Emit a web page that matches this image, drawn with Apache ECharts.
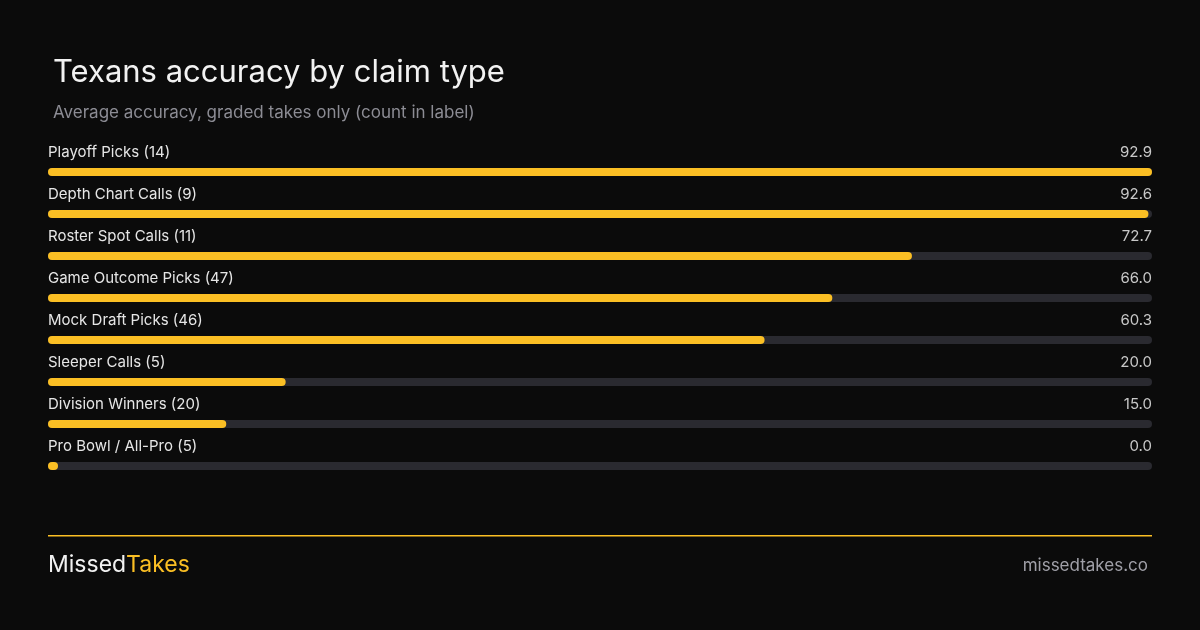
<!DOCTYPE html>
<html><head><meta charset="utf-8">
<script src="https://cdn.jsdelivr.net/npm/echarts@6/dist/echarts.min.js"></script>
<style>html,body{margin:0;padding:0;background:#0b0b0b}#c{width:1200px;height:630px}</style>
</head><body><div id="c"></div>
<script>
const categories = ["Playoff Picks (14)","Depth Chart Calls (9)","Roster Spot Calls (11)","Game Outcome Picks (47)","Mock Draft Picks (46)","Sleeper Calls (5)","Division Winners (20)","Pro Bowl / All-Pro (5)"];
const accuracy = [92.9,92.6,72.7,66.0,60.3,20.0,15.0,0.0];
const maxVal = Math.max(...accuracy);
const YEL = '#fbbf24';
const chart = echarts.init(document.getElementById('c'));
chart.setOption({
  backgroundColor:'#0b0b0b',
  textStyle:{fontFamily:'Inter'},
  title:[
    {text:'Texans accuracy by claim type',left:48,top:52,textStyle:{color:'#f2f2f2',fontSize:31,fontWeight:'normal',fontFamily:'Inter'}},
    {text:'Average accuracy, graded takes only (count in label)',left:48,top:99,textStyle:{color:'#8c8c94',fontSize:17,fontWeight:'normal',fontFamily:'Inter'}}
  ],
  grid:{left:48,right:48,top:151,height:336,containLabel:false},
  xAxis:{type:'value',min:0,max:maxVal,show:false},
  yAxis:{type:'category',data:categories,inverse:true,show:false},
  series:[
    {type:'bar',data:accuracy,barWidth:8,barMinHeight:10,
     itemStyle:{color:YEL,borderRadius:4},
     showBackground:true,backgroundStyle:{color:'#2a2a30',borderRadius:4},
     label:{show:true,position:[0,-8],align:'left',verticalAlign:'bottom',color:'#e6e6e6',fontSize:15,fontFamily:'Inter',formatter:p=>p.name},
     z:3},
    {type:'bar',data:accuracy.map(()=>maxVal),barWidth:8,barGap:'-100%',silent:true,
     itemStyle:{color:'rgba(0,0,0,0)'},
     label:{show:true,position:[1104,-8],align:'right',verticalAlign:'bottom',color:'#c8c8c8',fontSize:15,fontFamily:'Inter',
       formatter:p=>accuracy[p.dataIndex].toFixed(1)},
     z:2}
  ],
  graphic:[
    {type:'rect',shape:{x:48,y:535,width:1104,height:1.5},style:{fill:YEL}},
    {type:'text',left:48,top:554,style:{text:'{a|Missed}{b|Takes}',rich:{a:{fill:'#f2f2f2',fontSize:23,fontFamily:'Inter'},b:{fill:YEL,fontSize:23,fontFamily:'Inter'}}}},
    {type:'text',right:52,top:557,style:{text:'missedtakes.co',fill:'#a0a0a8',fontSize:17,fontFamily:'Inter'}}
  ]
});
</script></body></html>
